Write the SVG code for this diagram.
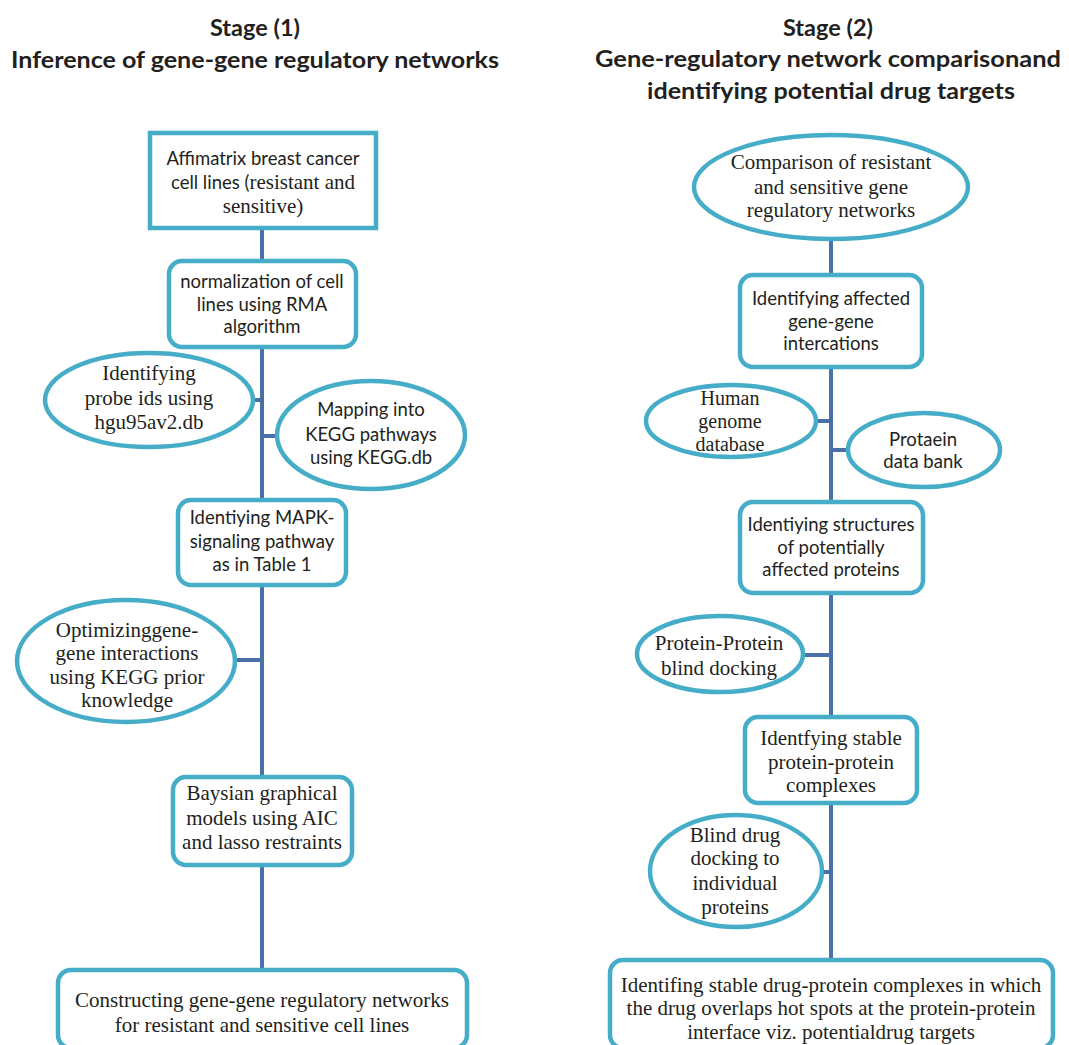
<svg xmlns="http://www.w3.org/2000/svg" width="1069" height="1045" viewBox="0 0 1069 1045">
<style>
.n{fill:#fff;stroke:#45adc7;stroke-width:4.5}
.c{stroke:#4a70a8;stroke-width:4;fill:none}
.s{font-family:Lato,"Liberation Sans",Arial,sans-serif;font-size:18.5px;fill:#231f20;text-anchor:middle}
.r{font-family:"Liberation Serif","Times New Roman",serif;font-size:21px;fill:#231f20;text-anchor:middle}
.t{font-family:Lato,"Liberation Sans",Arial,sans-serif;font-size:22px;font-weight:bold;fill:#231f20;text-anchor:middle}
.h{font-size:23.5px}
.m{font-size:20px}
</style>
<rect width="1069" height="1045" fill="#fff"/>
<g id="titles">
<text class="t h" x="255" y="36">Stage (1)</text>
<text class="t" x="255" y="68" textLength="488" lengthAdjust="spacingAndGlyphs">Inference of gene-gene regulatory networks</text>
<text class="t h" x="828" y="36">Stage (2)</text>
<text class="t" x="828" y="67" textLength="466" lengthAdjust="spacingAndGlyphs">Gene-regulatory network comparisonand</text>
<text class="t" x="831" y="99" textLength="368" lengthAdjust="spacingAndGlyphs">identifying potential drug targets</text>
</g>
<g id="connectors">
<line class="c" x1="262" y1="228" x2="262" y2="972"/>
<line class="c" x1="250" y1="400" x2="262" y2="400"/>
<line class="c" x1="262" y1="436" x2="280" y2="436"/>
<line class="c" x1="232" y1="660" x2="262" y2="660"/>
<line class="c" x1="831" y1="237" x2="831" y2="962"/>
<line class="c" x1="814" y1="421" x2="831" y2="421"/>
<line class="c" x1="831" y1="450" x2="851" y2="450"/>
<line class="c" x1="800" y1="655" x2="831" y2="655"/>
<line class="c" x1="815" y1="872" x2="831" y2="872"/>
</g>
<g id="n1">
<rect class="n" x="150" y="133" width="226" height="95"/>
<text class="s" x="263" y="165">Affimatrix breast cancer</text>
<text class="s" x="263" y="189">cell lines (<tspan class="r" style="text-anchor:start">resistant and</tspan></text>
<text class="r" x="263" y="213">sensitive)</text>
</g>
<g id="n2">
<rect class="n" x="169" y="261" width="187" height="86" rx="13"/>
<text class="s" x="262" y="288">normalization of cell</text>
<text class="s" x="262" y="311">lines using RMA</text>
<text class="s" x="262" y="333">algorithm</text>
</g>
<g id="e1">
<ellipse class="n" cx="149" cy="400" rx="104" ry="47"/>
<text class="r" x="149" y="380">Identifying</text>
<text class="r" x="149" y="405">probe ids using</text>
<text class="r" x="149" y="429">hgu95av2.db</text>
</g>
<g id="e2">
<ellipse class="n" cx="371" cy="435" rx="94" ry="54"/>
<text class="s" x="371" y="416">Mapping into</text>
<text class="s" x="371" y="441">KEGG pathways</text>
<text class="s" x="371" y="464">using KEGG.db</text>
</g>
<g id="n3">
<rect class="n" x="178" y="500" width="168" height="85" rx="13"/>
<text class="s" x="262" y="524">Identiying MAPK-</text>
<text class="s" x="262" y="548">signaling pathway</text>
<text class="s" x="262" y="571">as in Table 1</text>
</g>
<g id="e3">
<ellipse class="n" cx="126" cy="661" rx="109" ry="61"/>
<text class="r" x="127" y="637">Optimizinggene-</text>
<text class="r" x="127" y="660">gene interactions</text>
<text class="r" x="127" y="684">using KEGG prior</text>
<text class="r" x="127" y="707">knowledge</text>
</g>
<g id="n4">
<rect class="n" x="173" y="777" width="179" height="88" rx="13"/>
<text class="r" x="262" y="800">Baysian graphical</text>
<text class="r" x="262" y="825">models using AIC</text>
<text class="r" x="262" y="849">and lasso restraints</text>
</g>
<g id="n5">
<rect class="n" x="58" y="970" width="409" height="78" rx="13"/>
<text class="r" x="262" y="1007">Constructing gene-gene regulatory networks</text>
<text class="r" x="262" y="1032">for resistant and sensitive cell lines</text>
</g>
<g id="e4">
<ellipse class="n" cx="831" cy="187" rx="137" ry="52"/>
<text class="r" x="831" y="169">Comparison of resistant</text>
<text class="r" x="831" y="194">and sensitive gene</text>
<text class="r" x="831" y="217">regulatory networks</text>
</g>
<g id="n6">
<rect class="n" x="740" y="275" width="182" height="92" rx="13"/>
<text class="s" x="831" y="305">Identifying affected</text>
<text class="s" x="831" y="328">gene-gene</text>
<text class="s" x="831" y="350">intercations</text>
</g>
<g id="e5">
<ellipse class="n" cx="731" cy="421" rx="85" ry="36"/>
<text class="r m" x="730" y="405">Human</text>
<text class="r m" x="730" y="428">genome</text>
<text class="r m" x="730" y="451">database</text>
</g>
<g id="e6">
<ellipse class="n" cx="924" cy="450" rx="76" ry="37"/>
<text class="s" x="923" y="446">Protaein</text>
<text class="s" x="923" y="468">data bank</text>
</g>
<g id="n7">
<rect class="n" x="740" y="502" width="183" height="91" rx="13"/>
<text class="s" x="831" y="531">Identiying structures</text>
<text class="s" x="831" y="554">of potentially</text>
<text class="s" x="831" y="576">affected proteins</text>
</g>
<g id="e7">
<ellipse class="n" cx="720" cy="654" rx="83" ry="38"/>
<text class="r" x="719" y="650">Protein-Protein</text>
<text class="r" x="719" y="675">blind docking</text>
</g>
<g id="n8">
<rect class="n" x="745" y="717" width="172" height="86" rx="13"/>
<text class="r" x="831" y="745">Identfying stable</text>
<text class="r" x="831" y="769">protein-protein</text>
<text class="r" x="831" y="792">complexes</text>
</g>
<g id="e8">
<ellipse class="n" cx="736" cy="871" rx="86" ry="56"/>
<text class="r" x="735" y="842">Blind drug</text>
<text class="r" x="735" y="865">docking to</text>
<text class="r" x="735" y="890">individual</text>
<text class="r" x="735" y="914">proteins</text>
</g>
<g id="n9">
<rect class="n" x="610" y="960" width="443" height="88" rx="13"/>
<text class="r" x="831" y="992">Identifing stable drug-protein complexes in which</text>
<text class="r" x="831" y="1015">the drug overlaps hot spots at the protein-protein</text>
<text class="r" x="831" y="1039">interface viz. potentialdrug targets</text>
</g>
</svg>
